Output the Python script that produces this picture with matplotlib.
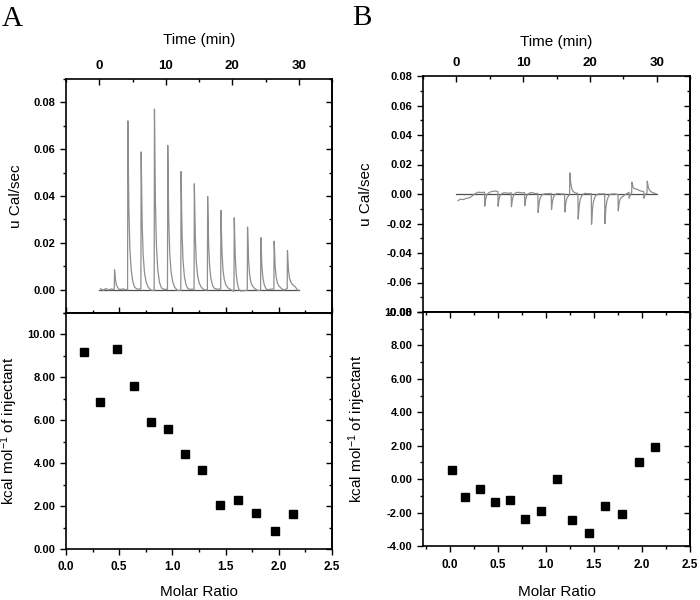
import numpy as np
import matplotlib
matplotlib.use('Agg')
import matplotlib.pyplot as plt
from matplotlib.ticker import MultipleLocator, FormatStrFormatter

plt.rcParams['font.family'] = ['Liberation Sans', 'DejaVu Sans']
plt.rcParams['mathtext.fontset'] = 'custom'
plt.rcParams['mathtext.rm'] = 'Liberation Sans'
plt.rcParams['mathtext.it'] = 'Liberation Sans'

# ---- panel A: raw heat trace (injection peaks) ----
A_peak_t = [2.3, 4.3, 6.3, 8.3, 10.3, 12.3, 14.3, 16.3, 18.3, 20.3, 22.3, 24.3, 26.3, 28.3]
A_peak_h = [0.0085, 0.0722, 0.0586, 0.0776, 0.0615, 0.0508, 0.0450, 0.0400,
            0.0336, 0.0315, 0.0270, 0.0226, 0.0204, 0.0162]
# baseline wiggle of the trace between injections
A_base_t = [0.2, 0.6, 1.0, 1.4, 1.8, 2.2, 3.0, 3.6, 4.0, 5.2, 5.8, 7.2, 7.8, 9.0, 9.8,
            11.1, 11.8, 13.2, 13.8, 15.2, 15.8, 17.2, 17.8, 19.2, 19.8, 21.0, 21.6,
            23.2, 23.8, 25.2, 25.8, 27.2, 27.8, 28.9, 29.4, 29.9]
A_base_y = [0.0004, -0.0003, 0.0005, -0.0002, 0.0003, 0.0, -0.0004, 0.0003, 0.0,
            -0.0003, 0.0002, 0.0003, -0.0002, -0.0008, 0.0001, 0.0002, -0.0003,
            -0.0005, 0.0001, 0.0004, -0.0001, -0.0003, 0.0002, 0.0003, 0.0,
            -0.0019, -0.0006, 0.0002, -0.0003, -0.0006, 0.0002, 0.0004, -0.0002,
            0.0014, 0.0012, -0.0003]

# ---- panel A: integrated heats ----
A_ratio = [0.17, 0.32, 0.475, 0.635, 0.796, 0.956, 1.116, 1.28, 1.447, 1.62, 1.79, 1.962, 2.138]
A_kcal = [9.19, 6.86, 9.33, 7.62, 5.93, 5.60, 4.42, 3.69, 2.07, 2.30, 1.70, 0.84, 1.63]

# ---- panel B: raw heat trace ----
B_peak_t = [4.25, 6.25, 8.25, 10.25, 12.25, 14.25, 16.25, 17.0, 18.25, 20.25,
            22.25, 24.25, 25.9, 26.3, 28.1, 28.6]
B_peak_h = [-0.0095, -0.0100, -0.0095, -0.0088, -0.0129, -0.0110, -0.0122, 0.0149,
            -0.0174, -0.0208, -0.0203, -0.0110, -0.0040, 0.0070, -0.0045, 0.0080]
B_base_t = [0.25, 0.6, 1.0, 1.5, 2.0, 2.6, 3.2, 3.8, 5.2, 5.8, 7.0, 7.8, 9.0, 9.8,
            11.2, 11.8, 13.0, 13.8, 15.0, 15.8, 17.6, 19.2, 19.8, 21.2, 21.8, 23.0,
            23.8, 25.0, 25.8, 27.0, 27.6, 29.0, 29.9]
B_base_y = [-0.0045, -0.0035, -0.0038, -0.003, -0.0025, -0.0005, 0.0012, 0.001,
            0.0018, 0.002, 0.0012, 0.0005, 0.0015, 0.0008, 0.0012, 0.0003, 0.0005,
            0.0002, 0.0008, 0.0, 0.0, 0.0008, 0.0002, 0.0005, 0.0, 0.0006, 0.0,
            -0.001, 0.001, 0.003, 0.002, 0.001, 0.0002]

# ---- panel B: integrated heats ----
B_ratio = [0.02, 0.157, 0.31, 0.467, 0.624, 0.78, 0.948, 1.11, 1.27, 1.446, 1.62, 1.79, 1.965, 2.14]
B_kcal = [0.52, -1.06, -0.56, -1.36, -1.26, -2.38, -1.92, 0.02, -2.46, -3.25, -1.62, -2.06, 1.04, 1.92]

# shape of one injection peak (time offset in min, fraction of height)
shape_dt = [-0.04, 0.0, 0.06, 0.15, 0.3, 0.5, 0.75, 1.05, 1.45]
shape_f = [0.0, 1.0, 0.78, 0.48, 0.25, 0.12, 0.05, 0.015, 0.0]


def build_trace(base_t, base_y, peak_t, peak_h):
    pts = set(base_t)
    for t in peak_t:
        for d in shape_dt:
            pts.add(round(t + d, 4))
    tv = np.array(sorted(p for p in pts if base_t[0] <= p <= base_t[-1]))
    yv = np.interp(tv, base_t, base_y)
    for t, h in zip(peak_t, peak_h):
        yv = yv + h * np.interp(tv - t, shape_dt, shape_f, left=0, right=0)
    return tv, yv


lab_font = dict(fontsize=11)


def style_left(ax, major, minor, fmt):
    ax.yaxis.set_major_locator(MultipleLocator(major))
    ax.yaxis.set_minor_locator(MultipleLocator(minor))
    ax.yaxis.set_major_formatter(FormatStrFormatter(fmt))
    ax.tick_params(axis='y', which='both', left=True, right=False, direction='out',
                   width=1)
    ax.tick_params(axis='y', which='major', length=4)
    ax.tick_params(axis='y', which='minor', length=2.5)
    for lb in ax.get_yticklabels():
        lb.set_fontsize(8)
        lb.set_fontweight('bold')
    sec = ax.secondary_yaxis('right')
    sec.yaxis.set_major_locator(MultipleLocator(major))
    sec.yaxis.set_minor_locator(MultipleLocator(minor))
    sec.tick_params(which='both', direction='in', labelright=False, width=1)
    sec.tick_params(which='major', length=4)
    sec.tick_params(which='minor', length=2.5)
    sec.spines['right'].set_linewidth(1.2)


def style_time(ax):
    ax.set_xlim(-5, 35)
    ax.xaxis.set_major_locator(MultipleLocator(10))
    ax.xaxis.set_minor_locator(MultipleLocator(5))
    ax.xaxis.set_major_formatter(FormatStrFormatter('%d'))
    ax.tick_params(axis='x', which='both', top=True, bottom=False, labeltop=True,
                   labelbottom=False, direction='in', width=1, pad=5)
    ax.tick_params(axis='x', which='major', length=4)
    ax.tick_params(axis='x', which='minor', length=2.5)
    for lb in ax.get_xticklabels():
        lb.set_fontsize(9.5)
        lb.set_fontweight('bold')
    ax.set_xlabel('Time (min)', **lab_font)
    ax.xaxis.set_label_position('top')


def style_ratio(ax, top_dir):
    ax.xaxis.set_major_locator(MultipleLocator(0.5))
    ax.xaxis.set_minor_locator(MultipleLocator(0.25))
    ax.xaxis.set_major_formatter(FormatStrFormatter('%.1f'))
    ax.tick_params(axis='x', which='both', bottom=True, top=False, direction='out',
                   width=1, pad=5)
    ax.tick_params(axis='x', which='major', length=4)
    ax.tick_params(axis='x', which='minor', length=2.5)
    for lb in ax.get_xticklabels():
        lb.set_fontsize(8.5)
        lb.set_fontweight('bold')
    sec = ax.secondary_xaxis('top')
    sec.xaxis.set_major_locator(MultipleLocator(0.5))
    sec.xaxis.set_minor_locator(MultipleLocator(0.25))
    sec.tick_params(which='both', direction=top_dir, labeltop=False, width=1)
    sec.tick_params(which='major', length=4)
    sec.tick_params(which='minor', length=2.5)
    sec.spines['top'].set_linewidth(1.2)
    ax.set_xlabel('Molar Ratio', **lab_font)


fig = plt.figure(figsize=(7, 6), dpi=100)

axAt = fig.add_axes([66 / 700, 1 - 313 / 600, 266 / 700, 234 / 600])
axAb = fig.add_axes([66 / 700, 1 - 549 / 600, 266 / 700, 236 / 600])
axBt = fig.add_axes([423 / 700, 1 - 312 / 600, 267 / 700, 236 / 600])
axBb = fig.add_axes([423 / 700, 1 - 546 / 600, 267 / 700, 234 / 600])

trace_col = '#8e8e8e'
base_col = '#505050'

# A top
t, y = build_trace(A_base_t, A_base_y, A_peak_t, A_peak_h)
axAt.plot([0, 30], [0, 0], color=base_col, lw=0.9)
axAt.plot(t, y, color=trace_col, lw=0.9)
axAt.set_ylim(-0.01, 0.09)
style_time(axAt)
style_left(axAt, 0.02, 0.01, '%.2f')
axAt.set_ylabel('u Cal/sec', **lab_font)
axAt.yaxis.set_label_coords(-0.162, 0.5)
axAt.xaxis.set_label_coords(0.5, 1.15)

# A bottom
axAb.plot(A_ratio, A_kcal, 's', color='black', markersize=5.5)
axAb.set_xlim(0, 2.5)
axAb.set_ylim(0, 11)
style_ratio(axAb, 'out')
style_left(axAb, 2, 1, '%.2f')
axAb.set_ylabel('kcal mol$^{-1}$ of injectant', **lab_font)
axAb.yaxis.set_label_coords(-0.172, 0.5)
axAb.xaxis.set_label_coords(0.5, -0.152)

# B top
t, y = build_trace(B_base_t, B_base_y, B_peak_t, B_peak_h)
axBt.plot([0, 30], [0, 0], color=base_col, lw=0.9)
axBt.plot(t, y, color=trace_col, lw=0.9)
axBt.set_ylim(-0.08, 0.08)
style_time(axBt)
style_left(axBt, 0.02, 0.01, '%.2f')
axBt.set_ylabel('u Cal/sec', **lab_font)
axBt.yaxis.set_label_coords(-0.187, 0.5)
axBt.xaxis.set_label_coords(0.5, 1.127)

# B bottom
axBb.plot(B_ratio, B_kcal, 's', color='black', markersize=5.5)
axBb.set_xlim(-0.28, 2.5)
axBb.set_ylim(-4, 10)
style_ratio(axBb, 'in')
style_left(axBb, 2, 1, '%.2f')
axBb.set_ylabel('kcal mol$^{-1}$ of injectant', **lab_font)
axBb.yaxis.set_label_coords(-0.206, 0.5)
axBb.xaxis.set_label_coords(0.5, -0.167)

for ax in [axAt, axAb, axBt, axBb]:
    for s in ax.spines.values():
        s.set_linewidth(1.2)

fig.text(0.003, 1 - 6 / 600, 'A', fontsize=21, family='Liberation Serif', va='top')
fig.text(352 / 700, 1 - 5 / 600, 'B', fontsize=21, family='Liberation Serif', va='top')

fig.savefig('out.png', dpi=100)
